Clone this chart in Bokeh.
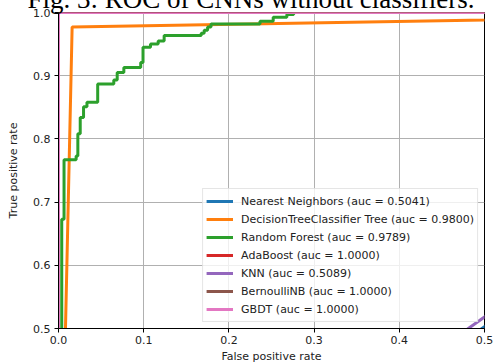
from bokeh.plotting import figure
from bokeh.models import Legend, LegendItem, FixedTicker, PrintfTickFormatter, Range1d
from bokeh.embed import file_html
from bokeh.resources import INLINE

# ---- data ----
nn_fpr = [0.0, 0.497, 1.0]
nn_tpr = [0.0, 0.500, 1.0]

dt_fpr = [0.0, 0.016, 1.0]
dt_tpr = [0.0, 0.977, 1.0]

rf_fpr = [0.0, 0.0, 0.0038, 0.0038, 0.0065, 0.0065, 0.0207, 0.0207, 0.0227, 0.0227,
          0.0255, 0.0255, 0.0294, 0.0294, 0.0334, 0.0334, 0.046, 0.046, 0.0649, 0.0649,
          0.0689, 0.0689, 0.0767, 0.0767, 0.0965, 0.0965, 0.0992, 0.0992, 0.108, 0.108,
          0.117, 0.117, 0.124, 0.124, 0.1675, 0.1675, 0.171, 0.171, 0.175, 0.175,
          0.179, 0.179, 0.2365, 0.2365, 0.252, 0.252, 0.268, 0.268, 0.276, 0.276, 1.0]
rf_tpr = [0.0, 0.45, 0.45, 0.673, 0.673, 0.767, 0.767, 0.773, 0.773, 0.808,
          0.808, 0.834, 0.834, 0.851, 0.851, 0.858, 0.858, 0.887, 0.887, 0.893,
          0.893, 0.905, 0.905, 0.913, 0.913, 0.921, 0.921, 0.945, 0.945, 0.950,
          0.950, 0.955, 0.955, 0.9635, 0.9635, 0.967, 0.967, 0.972, 0.972, 0.977,
          0.977, 0.982, 0.982, 0.986, 0.986, 0.9926, 0.9926, 0.997, 0.997, 1.0, 1.0]

ada_fpr = [0.0, 0.0, 1.0]
ada_tpr = [0.0, 1.0, 1.0]

knn_fpr = [0.0, 0.481, 1.0]
knn_tpr = [0.0, 0.500, 1.0]

bnb_fpr = [0.0, 0.0, 1.0]
bnb_tpr = [0.0, 1.0, 1.0]

gbdt_fpr = [0.0, 0.0, 1.0]
gbdt_tpr = [0.0, 1.0, 1.0]

labels = ["Nearest Neighbors (auc = 0.5041)",
          "DecisionTreeClassifier Tree (auc = 0.9800)",
          "Random Forest (auc = 0.9789)",
          "AdaBoost (auc = 1.0000)",
          "KNN (auc = 0.5089)",
          "BernoulliNB (auc = 1.0000)",
          "GBDT (auc = 1.0000)"]
colors = ["#1f77b4", "#ff7f0e", "#2ca02c", "#d62728", "#9467bd", "#8c564b", "#e377c2"]

x_ticks = [0.0, 0.1, 0.2, 0.3, 0.4, 0.5]
y_ticks = [0.5, 0.6, 0.7, 0.8, 0.9, 1.0]

title_text = "Fig. 3: ROC of CNNs without classifiers."

# ---- figure ----
# a tall top border holds the (partly cropped) caption; the negative top margin
# lifts the figure so that the frame starts 12px below the window's top edge
p = figure(frame_width=426, frame_height=316, output_backend="svg", toolbar_location=None,
           x_range=Range1d(0.0, 0.5), y_range=Range1d(0.5, 1.0),
           min_border_left=58, min_border_right=9, min_border_top=60, min_border_bottom=36,
           margin=(-48, 0, 0, 0))
p.background_fill_color = "white"
p.border_fill_color = "white"
p.outline_line_color = "black"
p.outline_line_width = 1

p.title.text = title_text
p.title.text_font = "Liberation Serif"
p.title.text_font_size = "27px"
p.title.text_font_style = "normal"
p.title.text_color = "black"
p.title.align = "left"
p.title.offset = -31
p.title.standoff = -2

series = [(nn_fpr, nn_tpr), (dt_fpr, dt_tpr), (rf_fpr, rf_tpr), (ada_fpr, ada_tpr),
          (knn_fpr, knn_tpr), (bnb_fpr, bnb_tpr), (gbdt_fpr, gbdt_tpr)]
items = []
for (xs, ys), c, lab in zip(series, colors, labels):
    r = p.line(xs, ys, line_color=c, line_width=3)
    items.append(LegendItem(label=lab, renderers=[r]))

for ax, ticks in ((p.xaxis[0], x_ticks), (p.yaxis[0], y_ticks)):
    ax.ticker = FixedTicker(ticks=ticks)
    ax.formatter = PrintfTickFormatter(format="%.1f")
    ax.minor_tick_line_color = None
    ax.major_tick_in = 0
    ax.major_tick_out = 4
    ax.major_tick_line_color = "black"
    ax.axis_line_color = "black"
    ax.major_label_text_font = "DejaVu Sans"
    ax.major_label_text_font_size = "11px"
    ax.major_label_text_color = "#222222"
    ax.axis_label_text_font = "DejaVu Sans"
    ax.axis_label_text_font_size = "11px"
    ax.axis_label_text_font_style = "normal"
    ax.axis_label_text_color = "#222222"

p.xaxis[0].axis_label = "False positive rate"
p.yaxis[0].axis_label = "True positive rate"
p.xaxis[0].major_label_standoff = 3
p.yaxis[0].major_label_standoff = 4
p.xaxis[0].axis_label_standoff = 3
p.yaxis[0].axis_label_standoff = 10

p.grid.grid_line_color = "#b0b0b0"
p.grid.grid_line_width = 1
p.xgrid.ticker = FixedTicker(ticks=x_ticks)
p.ygrid.ticker = FixedTicker(ticks=y_ticks)

legend = Legend(items=items, location="bottom_right")
legend.label_text_font = "DejaVu Sans"
legend.label_text_font_size = "11px"
legend.label_text_color = "#222222"
legend.glyph_width = 27
legend.glyph_height = 18
legend.label_height = 18
legend.spacing = 0
legend.padding = 3
legend.margin = 6
legend.label_standoff = 8
legend.border_line_color = "#cccccc"
legend.border_line_width = 1
legend.background_fill_alpha = 0.8
p.add_layout(legend)

open("out.html", "w").write(file_html(p, INLINE))
